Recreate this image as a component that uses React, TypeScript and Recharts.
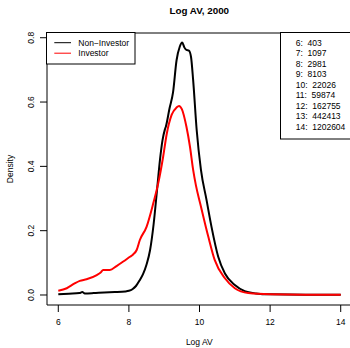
import React from "react";
import { LineChart, Line, XAxis, YAxis, ReferenceLine } from "recharts";

// ---- data ----
const nonInvestorX = [6.0, 6.3, 6.6, 6.68, 6.75, 7.0, 7.3, 7.6, 7.9, 8.0, 8.1, 8.2, 8.3, 8.4, 8.5, 8.6, 8.7, 8.8, 8.88, 8.95, 9.02, 9.05, 9.15, 9.25, 9.35, 9.44, 9.51, 9.57, 9.63, 9.7, 9.76, 9.82, 9.92, 10.04, 10.2, 10.34, 10.53, 10.72, 11.0, 11.28, 11.6, 12.0, 13.0, 14.0];
const nonInvestorY = [0.002, 0.004, 0.006, 0.009, 0.005, 0.006, 0.008, 0.009, 0.011, 0.013, 0.018, 0.028, 0.045, 0.065, 0.095, 0.14, 0.22, 0.33, 0.42, 0.48, 0.515, 0.525, 0.58, 0.63, 0.73, 0.772, 0.785, 0.77, 0.762, 0.76, 0.74, 0.668, 0.513, 0.39, 0.295, 0.212, 0.119, 0.067, 0.031, 0.012, 0.005, 0.002, 0.001, 0.001];

const investorX = [6.0, 6.24, 6.45, 6.61, 6.8, 7.09, 7.2, 7.27, 7.46, 7.65, 7.84, 8.03, 8.12, 8.22, 8.31, 8.5, 8.69, 8.83, 8.97, 9.07, 9.21, 9.35, 9.42, 9.5, 9.63, 9.73, 9.82, 9.9, 10.03, 10.25, 10.43, 10.72, 11.0, 11.38, 12.0, 13.0, 14.0];
const investorY = [0.013, 0.021, 0.035, 0.044, 0.049, 0.062, 0.07, 0.078, 0.078, 0.09, 0.104, 0.119, 0.126, 0.14, 0.171, 0.212, 0.285, 0.347, 0.43, 0.5, 0.56, 0.583, 0.588, 0.578, 0.523, 0.461, 0.389, 0.34, 0.28, 0.181, 0.109, 0.052, 0.021, 0.006, 0.002, 0.001, 0.001];

const xTicks = [6, 8, 10, 12, 14];
const yTicks = [0, 0.2, 0.4, 0.6, 0.8];

const seriesNames = ["Non\u2212Investor", "Investor"];
const seriesColors = ["#000000", "#ff0000"];

const logLevels = [6, 7, 8, 9, 10, 11, 12, 13, 14];
const levelValues = [403, 1097, 2981, 8103, 22026, 59874, 162755, 442413, 1202604];

const title = "Log AV, 2000";
const xLabel = "Log AV";
const yLabel = "Density";

// ---- derived tables ----
const nonInvestorData = nonInvestorX.map((x, i) => ({ x, y: nonInvestorY[i] }));
const investorData = investorX.map((x, i) => ({ x, y: investorY[i] }));

const X_MIN = 5.68;
const X_MAX = 14.263;
const Y_MIN = -0.0311;
const Y_MAX = 0.8147;

const FONT = "'Liberation Sans', Arial, Helvetica, sans-serif";

const XTick = (props: any) => {
  const { x, payload } = props;
  return (
    <text x={x} y={325} textAnchor="middle" fontFamily={FONT} fontSize={8.5} fill="#000">
      {String(payload.value)}
    </text>
  );
};

const YTick = (props: any) => {
  const { y, payload } = props;
  const tx = 34.5;
  return (
    <text
      x={tx}
      y={y}
      textAnchor="middle"
      fontFamily={FONT}
      fontSize={8.5}
      fill="#000"
      transform={`rotate(-90, ${tx}, ${y})`}
    >
      {Number(payload.value).toFixed(1)}
    </text>
  );
};

export default function App() {
  return (
    <div style={{ position: "absolute", left: 0, top: 0, width: 350, height: 348, background: "#fff" }}>
      <LineChart width={350} height={348} margin={{ top: 33, right: 0, bottom: 0, left: 0 }}>
        <XAxis
          type="number"
          dataKey="x"
          domain={[X_MIN, X_MAX]}
          ticks={xTicks}
          interval={0}
          allowDataOverflow
          height={43}
          tickSize={7}
          tickLine={{ stroke: "#000" }}
          axisLine={{ stroke: "#000" }}
          tick={<XTick />}
        />
        <YAxis
          type="number"
          dataKey="y"
          domain={[Y_MIN, Y_MAX]}
          ticks={yTicks}
          interval={0}
          allowDataOverflow
          width={47}
          tickSize={7}
          tickLine={{ stroke: "#000" }}
          axisLine={{ stroke: "#000" }}
          tick={<YTick />}
        />
        <ReferenceLine y={Y_MAX} stroke="#000" ifOverflow="visible" />
        <Line
          data={nonInvestorData}
          dataKey="y"
          type="monotone"
          stroke={seriesColors[0]}
          strokeWidth={2}
          dot={false}
          activeDot={false}
          isAnimationActive={false}
        />
        <Line
          data={investorData}
          dataKey="y"
          type="monotone"
          stroke={seriesColors[1]}
          strokeWidth={2}
          dot={false}
          activeDot={false}
          isAnimationActive={false}
        />
      </LineChart>
      <svg
        width={350}
        height={348}
        style={{ position: "absolute", left: 0, top: 0, pointerEvents: "none" }}
      >
        <text x={199.3} y={14.3} textAnchor="middle" fontFamily={FONT} fontSize={9.8} fontWeight="bold" fill="#000">
          {title}
        </text>
        <text x={199.3} y={344.5} textAnchor="middle" fontFamily={FONT} fontSize={8.5} fill="#000">
          {xLabel}
        </text>
        <text
          x={12.5}
          y={169}
          textAnchor="middle"
          fontFamily={FONT}
          fontSize={8.5}
          fill="#000"
          transform="rotate(-90, 12.5, 169)"
        >
          {yLabel}
        </text>

        {/* legend 1 */}
        <rect x={46.5} y={32.5} width={88.5} height={31.5} fill="#fff" stroke="#000" strokeWidth={1} />
        {seriesNames.map((name, i) => (
          <g key={name}>
            <line x1={54.3} x2={71} y1={42.7 + i * 10.5} y2={42.7 + i * 10.5} stroke={seriesColors[i]} strokeWidth={1} />
            <text x={78.3} y={45.7 + i * 10.5} fontFamily={FONT} fontSize={8.5} fill="#000">
              {name}
            </text>
          </g>
        ))}

        {/* legend 2 */}
        <rect x={280.5} y={32.5} width={80} height={106.5} fill="#fff" stroke="#000" strokeWidth={1} />
        {logLevels.map((lv, i) => (
          <text
            key={lv}
            x={295.7}
            y={45.8 + i * 10.5}
            fontFamily={FONT}
            fontSize={8.5}
            fill="#000"
            style={{ whiteSpace: "pre" }}
          >
            {`${lv}:  ${levelValues[i]}`}
          </text>
        ))}
      </svg>
    </div>
  );
}
